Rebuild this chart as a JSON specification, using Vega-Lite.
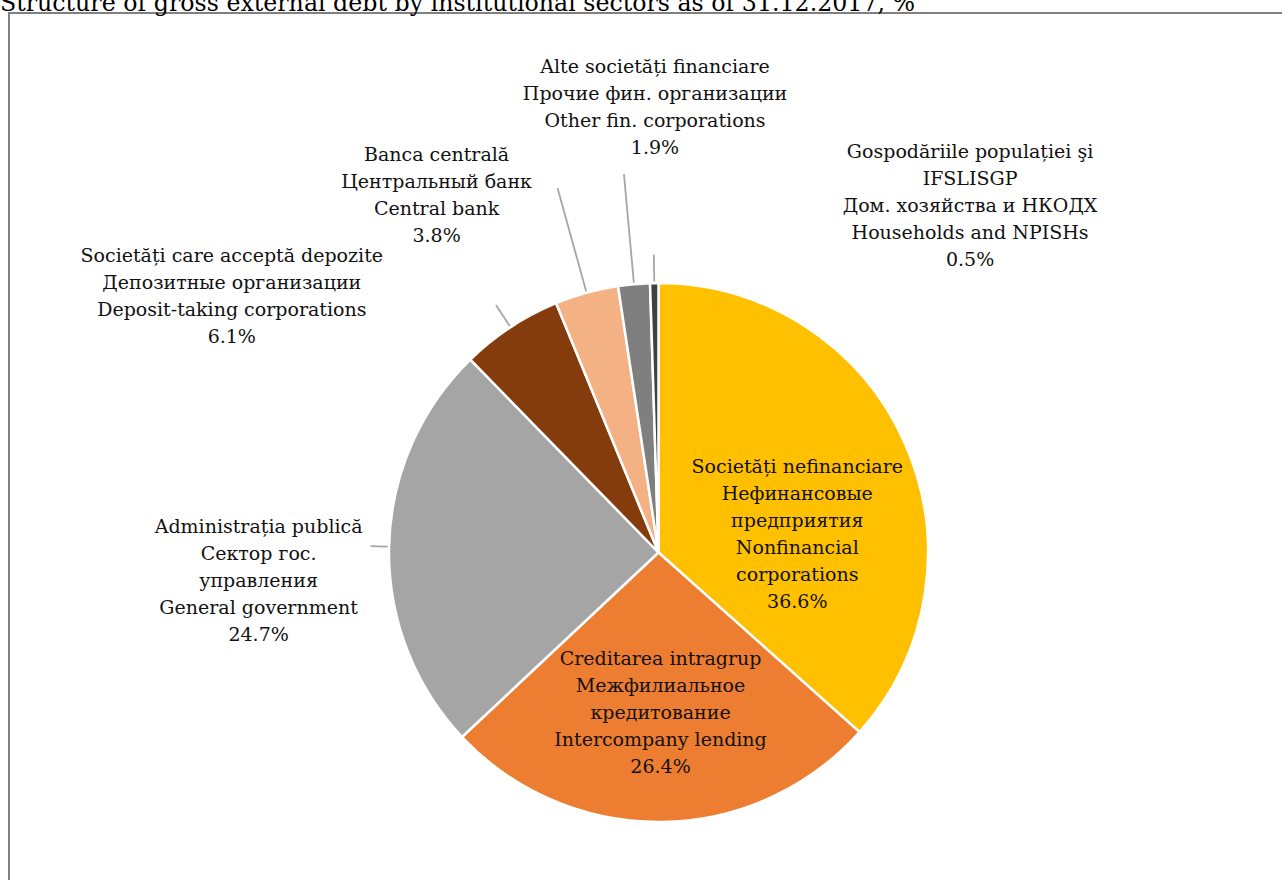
{
  "$schema": "https://vega.github.io/schema/vega-lite/v6.json",
  "width": 1299,
  "height": 1079,
  "autosize": {"type": "none"},
  "padding": {"left": 9, "top": 13, "right": 0, "bottom": 0},
  "background": "white",
  "title": {
    "text": "Structure of gross external debt by institutional sectors as of 31.12.2017, %",
    "anchor": "start",
    "frame": "group",
    "dx": -9,
    "offset": -4,
    "font": "DejaVu Serif",
    "fontSize": 23.7,
    "fontWeight": "normal",
    "color": "#000000"
  },
  "config": {
    "view": {"stroke": null},
    "text": {"font": "DejaVu Serif", "fontSize": 19, "lineHeight": 27, "lineBreak": "\n", "color": "#111111", "align": "center", "baseline": "middle"}
  },
  "data": {
    "values": [
      {"key": "NF", "order": 1, "value": 36.6, "label": "Societăți nefinanciare\nНефинансовые\nпредприятия\nNonfinancial\ncorporations\n36.6%"},
      {"key": "IC", "order": 2, "value": 26.4, "label": "Creditarea intragrup\nМежфилиальное\nкредитование\nIntercompany lending\n26.4%"},
      {"key": "GG", "order": 3, "value": 24.7, "label": "Administrația publică\nСектор гос.\nуправления\nGeneral government\n24.7%"},
      {"key": "DT", "order": 4, "value": 6.1, "label": "Societăți care acceptă depozite\nДепозитные организации\nDeposit-taking corporations\n6.1%"},
      {"key": "CB", "order": 5, "value": 3.8, "label": "Banca centrală\nЦентральный банк\nCentral bank\n3.8%"},
      {"key": "OF", "order": 6, "value": 1.9, "label": "Alte societăți financiare\nПрочие фин. организации\nOther fin. corporations\n1.9%"},
      {"key": "HH", "order": 7, "value": 0.5, "label": "Gospodăriile populației şi\nIFSLISGP\nДом. хозяйства и НКОДХ\nHouseholds and NPISHs\n0.5%"}
    ]
  },
  "layer": [
    {
      "data": {"values": [{"frame": "border"}]},
      "mark": {"type": "rect", "fill": null, "stroke": "#808080", "strokeWidth": 2},
      "encoding": {}
    },
    {
      "encoding": {
        "theta": {"field": "value", "type": "quantitative", "stack": true, "scale": {"domain": [0, 100]}},
        "order": {"field": "order", "type": "quantitative"},
        "detail": {"field": "key", "type": "nominal"}
      },
      "layer": [
        {
          "mark": {"type": "arc", "radius": 269.5, "stroke": "white", "strokeWidth": 2.5},
          "encoding": {
            "color": {
              "field": "key", "type": "nominal", "legend": null,
              "scale": {"domain": ["NF", "IC", "GG", "DT", "CB", "OF", "HH"], "range": ["#FFC000", "#ED7D31", "#A5A5A5", "#843C0C", "#F4B183", "#7F7F7F", "#404040"]}
            }
          }
        },
        {
          "mark": {"type": "arc", "radius": 288, "radius2": 271, "padAngle": 1.2, "fillOpacity": 0, "stroke": "#A6A6A6", "strokeWidth": 1.8},
          "encoding": {"strokeOpacity": {"condition": {"test": "datum.key === 'GG'", "value": 1}, "value": 0}}
        },
        {
          "mark": {"type": "arc", "radius": 296, "radius2": 271, "padAngle": 1.2, "fillOpacity": 0, "stroke": "#A6A6A6", "strokeWidth": 1.8},
          "encoding": {"strokeOpacity": {"condition": {"test": "datum.key === 'DT'", "value": 1}, "value": 0}}
        },
        {
          "mark": {"type": "arc", "radius": 378, "radius2": 271, "padAngle": 1.2, "fillOpacity": 0, "stroke": "#A6A6A6", "strokeWidth": 1.8},
          "encoding": {"strokeOpacity": {"condition": {"test": "datum.key === 'CB'", "value": 1}, "value": 0}}
        },
        {
          "mark": {"type": "arc", "radius": 380, "radius2": 271, "padAngle": 1.2, "fillOpacity": 0, "stroke": "#A6A6A6", "strokeWidth": 1.8},
          "encoding": {"strokeOpacity": {"condition": {"test": "datum.key === 'OF'", "value": 1}, "value": 0}}
        },
        {
          "mark": {"type": "arc", "radius": 298, "radius2": 271, "padAngle": 1.2, "fillOpacity": 0, "stroke": "#A6A6A6", "strokeWidth": 1.8},
          "encoding": {"strokeOpacity": {"condition": {"test": "datum.key === 'HH'", "value": 1}, "value": 0}}
        },
        {
          "mark": {"type": "text", "radius": 140, "dx": 11, "dy": -28},
          "encoding": {"text": {"condition": {"test": "datum.key === 'NF'", "field": "label", "type": "nominal"}, "value": ""}}
        },
        {
          "mark": {"type": "text", "radius": 161, "dx": 0, "dy": -54},
          "encoding": {"text": {"condition": {"test": "datum.key === 'IC'", "field": "label", "type": "nominal"}, "value": ""}}
        },
        {
          "mark": {"type": "text", "radius": 400, "dx": 0, "dy": -17},
          "encoding": {"text": {"condition": {"test": "datum.key === 'GG'", "field": "label", "type": "nominal"}, "value": ""}}
        },
        {
          "mark": {"type": "text", "radius": 300, "dx": -262, "dy": -46},
          "encoding": {"text": {"condition": {"test": "datum.key === 'DT'", "field": "label", "type": "nominal"}, "value": ""}}
        },
        {
          "mark": {"type": "text", "radius": 378, "dx": -121, "dy": -33},
          "encoding": {"text": {"condition": {"test": "datum.key === 'CB'", "field": "label", "type": "nominal"}, "value": ""}}
        },
        {
          "mark": {"type": "text", "radius": 445, "dx": 37, "dy": -42},
          "encoding": {"text": {"condition": {"test": "datum.key === 'OF'", "field": "label", "type": "nominal"}, "value": ""}}
        },
        {
          "mark": {"type": "text", "radius": 347, "dx": 317, "dy": -54},
          "encoding": {"text": {"condition": {"test": "datum.key === 'HH'", "field": "label", "type": "nominal"}, "value": ""}}
        }
      ]
    }
  ]
}
